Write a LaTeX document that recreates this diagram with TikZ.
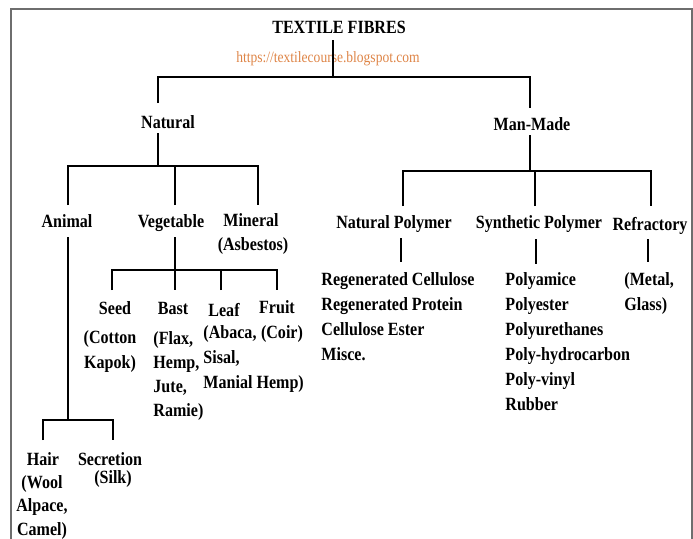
\documentclass[tikz,border=0pt]{standalone}
\usepackage{fontspec}
\setmainfont{Liberation Serif}[FakeStretch=0.86]

\definecolor{linkor}{RGB}{222, 132, 70}
\definecolor{frame}{RGB}{110, 110, 110}

\begin{document}
\begin{tikzpicture}[x=0.75pt, y=-0.75pt, line width=2.2pt,
  lbl/.style={font=\bfseries\fontsize{14}{18.75}\selectfont, inner sep=0pt, anchor=base},
  lst/.style={lbl, align=left, anchor=base west},
  ctr/.style={lbl, align=center}]
  \useasboundingbox (0,0) rectangle (693,539);
  \draw[line width=1.5pt, frame] (11,539) -- (11,9) -- (692,9) -- (692,539);

  \node[lbl] (title) at (339,33) {TEXTILE FIBRES};
  \node[lbl, font=\fontsize{11.8}{14}\selectfont, text=linkor] (link) at (328,62) {https://textilecourse.blogspot.com};
  \node[lbl] (natural) at (168,128) {Natural};
  \node[lbl] (manmade) at (532,130) {Man-Made};

  \node[lbl] (animal) at (67,227) {Animal};
  \node[lbl] (vegetable) at (171,227) {Vegetable};
  \node[lbl] (mineral) at (251,226) {Mineral};
  \node[lbl] (asbestos) at (253,250) {(Asbestos)};

  \node[lbl] (natpoly) at (394,228) {Natural Polymer};
  \node[lbl] (synpoly) at (539,228) {Synthetic Polymer};
  \node[lbl] (refractory) at (650,230) {Refractory};
  \node[lst] (natlist) at (320,360) {Regenerated Cellulose\\Regenerated Protein\\Cellulose Ester\\Misce.};
  \node[lst] (synlist) at (504,410) {Polyamice\\Polyester\\Polyurethanes\\Poly-hydrocarbon\\Poly-vinyl\\Rubber};
  \node[lst] (reflist) at (623,310) {(Metal,\\Glass)};

  \node[lbl] (seed) at (115,314) {Seed};
  \node[lbl] (bast) at (173,314) {Bast};
  \node[lbl] (leaf) at (224,316) {Leaf};
  \node[lbl] (fruit) at (277,313) {Fruit};
  \node[ctr] (seedlist) at (110,368) {(Cotton\\Kapok)};
  \node[lst, font=\bfseries\fontsize{14}{18}\selectfont] (bastlist) at (152,416) {(Flax,\\Hemp,\\Jute,\\Ramie)};
  \node[lst] (leaflist) at (202,388) {(Abaca,\\Sisal,\\Manial Hemp)};
  \node[lbl] (fruitlist) at (282,338) {(Coir)};

  \node[lbl] (hair) at (43,465) {Hair};
  \node[ctr, font=\bfseries\fontsize{14}{17.4}\selectfont] (hairlist) at (42,535) {(Wool\\Alpace,\\Camel)};
  \node[lbl] (secretion) at (110,465) {Secretion};
  \node[lbl] (silk) at (113,483) {(Silk)};

  \coordinate (T1) at (333,40);
  \coordinate (T2) at (333,77);
  \coordinate (N1) at (158,103);
  \coordinate (M1) at (530,108);
  \draw (T1) -- (T2);
  \draw (N1) |- (T2) -| (M1);

  \coordinate (N2) at (158,133);
  \coordinate (N3) at (158,166);
  \coordinate (A1) at (68,205);
  \coordinate (V1) at (175,205);
  \coordinate (Mi1) at (258,205);
  \draw (N2) -- (N3);
  \draw (A1) |- (N3) -| (Mi1);
  \draw (V1) -- (V1 |- N3);

  \coordinate (M2) at (530,135);
  \coordinate (M3) at (530,171);
  \coordinate (P1) at (403,206);
  \coordinate (S1) at (535,206);
  \coordinate (R1) at (651,206);
  \draw (M2) -- (M3);
  \draw (P1) |- (M3) -| (R1);
  \draw (S1) -- (S1 |- M3);

  \coordinate (A2) at (68,237);
  \coordinate (A3) at (68,420);
  \coordinate (H1) at (43,440);
  \coordinate (Se1) at (113,440);
  \draw (A2) -- (A3);
  \draw (H1) |- (A3) -| (Se1);

  \coordinate (V2) at (175,237);
  \coordinate (V3) at (175,270);
  \coordinate (V4) at (175,290);
  \coordinate (Sd1) at (112,290);
  \coordinate (L1) at (221,290);
  \coordinate (F1) at (277,290);
  \draw (V2) -- (V4);
  \draw (Sd1) |- (V3) -| (F1);
  \draw (L1) -- (L1 |- V3);

  \coordinate (P2) at (401,238);
  \coordinate (P3) at (401,262);
  \coordinate (S2) at (536,239);
  \coordinate (S3) at (536,264);
  \coordinate (R2) at (648,239);
  \coordinate (R3) at (648,262);
  \draw (P2) -- (P3);
  \draw (S2) -- (S3);
  \draw (R2) -- (R3);
\end{tikzpicture}
\end{document}
